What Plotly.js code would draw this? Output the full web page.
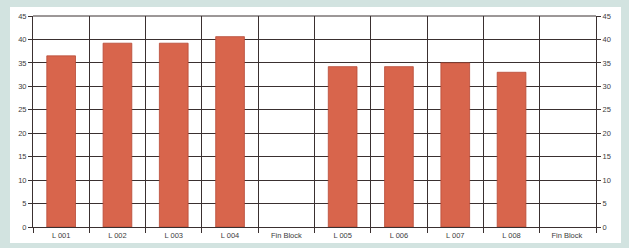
<!DOCTYPE html>
<html><head><meta charset="utf-8">
<script src="https://cdn.plot.ly/plotly-3.0.1.min.js"></script>
<style>
html,body{margin:0;padding:0;width:629px;height:248px;background:#d2e3e0;overflow:hidden;}
#chart{position:absolute;left:10px;top:7px;width:611px;height:236px;}
</style></head>
<body><div id="chart"></div>
<script>
const categories = ["L 001","L 002","L 003","L 004","Fin Block","L 005","L 006","L 007","L 008","Fin Block "];
const values = [36.5, 39.2, 39.2, 40.6, null, 34.2, 34.2, 35.0, 33.0, null];
const yTicks = [0,5,10,15,20,25,30,35,40,45];

const trace = {
  type: "bar", x: categories, y: values, width: 0.51,
  marker: {color: "#d8654c", line: {color: "#b84a36", width: 0.8}},
  hoverinfo: "skip"
};
const trace2 = {
  type: "scatter", x: categories, y: values, yaxis: "y2", mode: "none",
  showlegend: false, hoverinfo: "skip"
};
const tf = {family: "Liberation Sans, Arial, sans-serif", size: 7.5, color: "#3c3c3c"};
const layout = {
  width: 611, height: 236,
  margin: {l: 23, r: 25, t: 9, b: 16},
  paper_bgcolor: "#ffffff", plot_bgcolor: "#ffffff",
  showlegend: false, bargap: 0.49,
  font: tf,
  xaxis: {
    type: "category", tickson: "boundaries", showgrid: true, gridcolor: "#3a3030", gridwidth: 1,
    ticks: "outside", ticklen: 5, tickcolor: "#3a3030", showline: true, linecolor: "#3a3030",
    tickfont: tf, ticklabelstandoff: 1, fixedrange: true
  },
  yaxis: {
    range: [0, 45], tickvals: yTicks, showgrid: true, gridcolor: "#3a3030", gridwidth: 1,
    ticks: "outside", ticklen: 4, tickcolor: "#3a3030", showline: true, linecolor: "#3a3030",
    zeroline: false, tickfont: tf
  },
  yaxis2: {
    overlaying: "y", side: "right", range: [0, 45], tickvals: yTicks, showgrid: false,
    ticks: "outside", ticklen: 4, tickcolor: "#3a3030", showline: true, linecolor: "#3a3030",
    zeroline: false, tickfont: tf
  },
  shapes: [{type: "line", xref: "paper", yref: "paper", x0: 0, x1: 1, y0: 1, y1: 1, line: {color: "#3a3030", width: 1}}]
};
Plotly.newPlot("chart", [trace, trace2], layout, {staticPlot: true, displayModeBar: false});
</script></body></html>
